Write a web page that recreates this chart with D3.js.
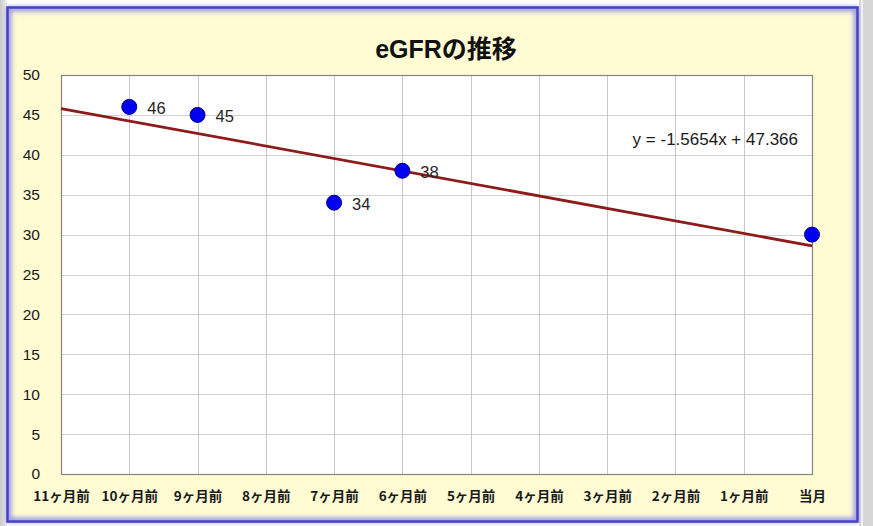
<!DOCTYPE html>
<html>
<head>
<meta charset="utf-8">
<script src="https://cdn.jsdelivr.net/npm/d3@7"></script>
<style>
  html, body { margin: 0; padding: 0; background: #ffffff; }
  svg { display: block; }
</style>
</head>
<body>
<svg id="chart" width="873" height="526"></svg>
<script>
// Month categories, oldest first
const categories = ["11ヶ月前", "10ヶ月前", "9ヶ月前", "8ヶ月前", "7ヶ月前", "6ヶ月前",
                    "5ヶ月前", "4ヶ月前", "3ヶ月前", "2ヶ月前", "1ヶ月前", "当月"];
// eGFR measurements (null = no measurement that month)
const egfrValues = [null, 46, 45, null, 34, 38, null, null, null, null, null, 30];
// Values shown next to each point
const labelValues = [null, "46", "45", null, "34", "38", null, null, null, null, null, null];
const yTicks = [0, 5, 10, 15, 20, 25, 30, 35, 40, 45, 50];
const chartTitle = "eGFRの推移";

const W = 873, H = 526;
const plot = { left: 61, top: 75, right: 812, bottom: 474 };

const svg = d3.select("#chart");
const defs = svg.append("defs");

// Outer window backdrop
const sideGrad = defs.append("linearGradient").attr("id", "sideGrad").attr("x1", 0).attr("x2", 1);
sideGrad.append("stop").attr("offset", 0).attr("stop-color", "#c9c9c9");
sideGrad.append("stop").attr("offset", 1).attr("stop-color", "#eeeeee");
svg.append("rect").attr("width", W).attr("height", H).attr("fill", "#ffffff");
svg.append("rect").attr("x", 0).attr("y", 0).attr("width", 7).attr("height", H).attr("fill", "url(#sideGrad)");
svg.append("rect").attr("x", 859).attr("y", 0).attr("width", 14).attr("height", H).attr("fill", "#d6d6d6");
svg.append("rect").attr("x", 861).attr("y", 0).attr("width", 2).attr("height", H).attr("fill", "#f4f4f4");

// Chart area with glowing blue frame
const glow = defs.append("filter").attr("id", "glow").attr("x", "-5%").attr("y", "-5%").attr("width", "110%").attr("height", "110%");
glow.append("feGaussianBlur").attr("stdDeviation", 2.2);

svg.append("rect")
  .attr("x", 7).attr("y", 7).attr("width", 851).attr("height", 515)
  .attr("fill", "#fffbd3");
svg.append("rect")
  .attr("x", 9).attr("y", 9).attr("width", 847).attr("height", 511)
  .attr("fill", "none").attr("stroke", "#9a97e6").attr("stroke-width", 5)
  .attr("filter", "url(#glow)");
svg.append("rect")
  .attr("x", 7.5).attr("y", 7.5).attr("width", 850).attr("height", 514)
  .attr("fill", "none").attr("stroke", "#4640c6").attr("stroke-width", 2.5);

// Scales
const x = d3.scalePoint().domain(categories).range([plot.left, plot.right]).padding(0);
const y = d3.scaleLinear().domain([0, 50]).range([plot.bottom, plot.top]);

// Plot area background
svg.append("rect")
  .attr("x", plot.left).attr("y", plot.top)
  .attr("width", plot.right - plot.left).attr("height", plot.bottom - plot.top)
  .attr("fill", "#ffffff");

// Gridlines
svg.append("g")
  .selectAll("line.h")
  .data(yTicks)
  .join("line")
  .attr("x1", plot.left).attr("x2", plot.right)
  .attr("y1", d => Math.round(y(d)) + 0.5).attr("y2", d => Math.round(y(d)) + 0.5)
  .attr("stroke", "#d2d2d2").attr("stroke-width", 1);
svg.append("g")
  .selectAll("line.v")
  .data(categories)
  .join("line")
  .attr("x1", d => Math.round(x(d)) + 0.5).attr("x2", d => Math.round(x(d)) + 0.5)
  .attr("y1", plot.top).attr("y2", plot.bottom)
  .attr("stroke", "#c8c8c8").attr("stroke-width", 1);

// Plot border
svg.append("rect")
  .attr("x", plot.left + 0.5).attr("y", plot.top + 0.5)
  .attr("width", plot.right - plot.left).attr("height", plot.bottom - plot.top)
  .attr("fill", "none").attr("stroke", "#858585").attr("stroke-width", 1.2);

// Y axis
const yAxis = d3.axisLeft(y).tickValues(yTicks).tickSize(0).tickPadding(21);
const yg = svg.append("g").attr("transform", `translate(${plot.left},0)`).call(yAxis);
yg.select(".domain").remove();
yg.selectAll("text")
  .attr("font-family", "'Liberation Sans', Arial, sans-serif")
  .attr("font-size", 15.5).attr("fill", "#1a1a1a");

// X axis
const xAxis = d3.axisBottom(x).tickSize(0).tickPadding(17);
const xg = svg.append("g").attr("transform", `translate(0,${plot.bottom})`).call(xAxis);
xg.select(".domain").remove();
xg.selectAll("text")
  .attr("font-family", "'Noto Sans CJK JP', sans-serif")
  .attr("font-weight", "bold")
  .attr("font-size", 13.5).attr("fill", "#1a1a1a");

// Linear trendline from least squares over category positions 1..12
const pts = egfrValues.map((v, i) => ({ i: i + 1, v })).filter(d => d.v !== null);
const mx = d3.mean(pts, d => d.i), my = d3.mean(pts, d => d.v);
const slope = d3.sum(pts, d => (d.i - mx) * (d.v - my)) / d3.sum(pts, d => (d.i - mx) ** 2);
const intercept = my - slope * mx;
const trend = [1, categories.length].map(i => ({ i, v: slope * i + intercept }));

svg.append("path")
  .datum(trend)
  .attr("d", d3.line().x(d => x(categories[d.i - 1])).y(d => y(d.v)))
  .attr("fill", "none").attr("stroke", "#8e1b1b").attr("stroke-width", 2.8);

// Points
const data = categories.map((c, i) => ({ c, v: egfrValues[i], label: labelValues[i] })).filter(d => d.v !== null);
svg.append("g")
  .selectAll("circle")
  .data(data)
  .join("circle")
  .attr("cx", d => x(d.c)).attr("cy", d => y(d.v)).attr("r", 7.5)
  .attr("fill", "#0000f0").attr("stroke", "#00008a").attr("stroke-width", 1);

// Data labels
svg.append("g")
  .selectAll("text")
  .data(data.filter(d => d.label))
  .join("text")
  .attr("x", d => x(d.c) + 18).attr("y", d => y(d.v) + 7)
  .attr("font-family", "'Liberation Sans', Arial, sans-serif")
  .attr("font-size", 16.5).attr("fill", "#262626")
  .text(d => d.label);

// Trendline equation
svg.append("text")
  .attr("x", 798).attr("y", 145)
  .attr("text-anchor", "end")
  .attr("font-family", "'Liberation Sans', Arial, sans-serif")
  .attr("font-size", 17).attr("fill", "#1a1a1a")
  .text(`y = ${slope.toFixed(4)}x + ${intercept.toFixed(3)}`);

// Title
svg.append("text")
  .attr("x", 446).attr("y", 58)
  .attr("text-anchor", "middle")
  .attr("font-family", "'Liberation Sans', 'Noto Sans CJK JP', sans-serif")
  .attr("font-weight", "bold")
  .attr("font-size", 25).attr("fill", "#111111")
  .text(chartTitle);
</script>
</body>
</html>
